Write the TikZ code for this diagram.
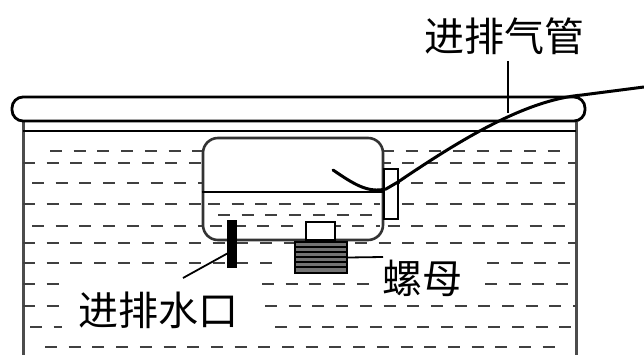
\documentclass[tikz,border=0pt]{standalone}
\usepackage{fontspec}
\newfontfamily\cjk{Noto Sans CJK SC}
\begin{document}
\begin{tikzpicture}[x=1pt,y=-1pt,
  water/.style={draw=black!75,line width=2.7pt,dash pattern=on 12pt off 11.7pt},
  wall/.style={draw=black!70,line width=3pt},
  rim/.style={draw=black,line width=2.8pt},
  tube/.style={draw=black,line width=3pt,line cap=round},
  leader/.style={draw=black,line width=1.8pt},
  label/.style={font=\cjk\fontsize{40}{40}\selectfont,inner sep=0pt,text=black}]
\useasboundingbox (0,0) rectangle (644,355);

% tank walls and rim line
\draw[wall] (23,122) -- (23,355);
\draw[wall] (576,122) -- (576,355);
\draw[rim] (23,131) -- (576,131);

% water in the tank
\foreach \y/\a/\b in {151/50/565,163/23/576,183/32/575,204/23/576,226/32/576,
  243/23/576,263/23/280,263/487/576,284/23/62,284/262/372,284/485/576,
  306/23/62,306/265/576,327/30/62,327/275/576,347/45/565}
  \draw[water] (\a,\y) -- (\b,\y);

% lid
\draw[rim,fill=white,rounded corners=11pt] (12,97) rectangle (585,121);

% floating box
\node[draw=black!80,line width=2.6pt,fill=white,rounded corners=15pt,
  minimum width=180pt,minimum height=102pt,inner sep=0pt] (box) at (293,189) {};
\draw[rim] (box.west |- 0,192) -- (box.east |- 0,192);
\begin{scope}
  \clip[rounded corners=15pt] (205,194) rectangle (381,238);
  \draw[water] (208,204) -- (380,204);
  \draw[water] (218,215) -- (376,215);
  \draw[water] (210,226) -- (380,226);
\end{scope}

% tube connector on the side of the box
\node[draw=black,line width=2pt,fill=white,minimum width=14pt,minimum height=50pt,
  inner sep=0pt] (conn) at (391,194) {};

% air tube
\coordinate (tin) at (333,170);
\coordinate (tout) at (644,87);
\draw[tube] (tin) .. controls (355,185) and (368,193) .. (386,189)
  -- (398,182) .. controls (460,140) and (525,100) .. (582,95) -- (tout);

% water valve
\node[fill=black,minimum width=10pt,minimum height=48pt,inner sep=0pt] (valve) at (232,244) {};

% nut
\node[draw=black,line width=2pt,fill=white,minimum width=29pt,minimum height=18pt,
  inner sep=0pt] (nutcap) at (320.5,231) {};
\node[draw=black,line width=2pt,fill=black!55,minimum width=52pt,minimum height=31pt,
  inner sep=0pt] (nut) at (321,257.5) {};
\foreach \y in {247,252,257,262,267}
  \draw[black,line width=1.5pt] (296,\y) -- (346,\y);

% labels
\node[label] (lgas) at (504,36) {进排气管};
\node[label] (lwater) at (158,310) {进排水口};
\node[label] (lnut) at (422,278) {螺母};

% leaders
\coordinate (g1) at (508,61);
\coordinate (g2) at (508,113);
\draw[leader] (g1) -- (g2);
\coordinate (w1) at (230,252);
\coordinate (w2) at (183,278);
\draw[leader] (w1) -- (w2);
\draw[leader] (nut.east) -- (383,257);
\end{tikzpicture}
\end{document}
